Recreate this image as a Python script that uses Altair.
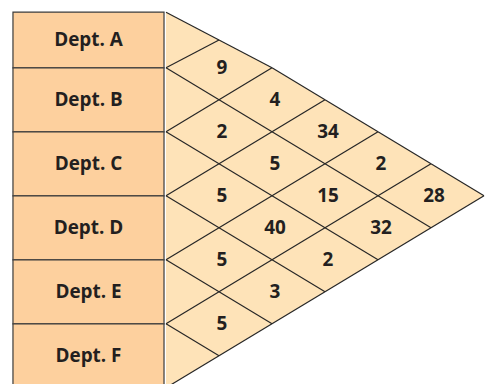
import altair as alt
import pandas as pd

# ---- data -------------------------------------------------------------
depts = ["Dept. A", "Dept. B", "Dept. C", "Dept. D", "Dept. E", "Dept. F"]

pair_first = ["Dept. A", "Dept. B", "Dept. C", "Dept. D", "Dept. E",
              "Dept. A", "Dept. B", "Dept. C", "Dept. D",
              "Dept. A", "Dept. B", "Dept. C",
              "Dept. A", "Dept. B",
              "Dept. A"]
pair_second = ["Dept. B", "Dept. C", "Dept. D", "Dept. E", "Dept. F",
               "Dept. C", "Dept. D", "Dept. E", "Dept. F",
               "Dept. D", "Dept. E", "Dept. F",
               "Dept. E", "Dept. F",
               "Dept. F"]
pair_values = [9, 2, 5, 5, 5,
               4, 5, 40, 3,
               34, 15, 2,
               2, 32,
               28]

# ---- derived tables (grid in row units) -------------------------------
n = len(depts)
idx = {d: k for k, d in enumerate(depts)}

cells = pd.DataFrame({"a": pair_first, "b": pair_second, "value": pair_values})
cells["x"] = [idx[b] - idx[a] for a, b in zip(pair_first, pair_second)]
cells["y"] = [(idx[a] + idx[b] + 1) / 2 for a, b in zip(pair_first, pair_second)]


def vertex(k, m):
    """Crossing of the down-right line from boundary k and up-right line from boundary m."""
    return m - k, (k + m) / 2


segs = []
for k in range(n + 1):
    for m in range(k, n):          # down-right line pieces
        (x1, y1), (x2, y2) = vertex(k, m), vertex(k, m + 1)
        segs.append({"x": x1, "y": y1, "x2": x2, "y2": y2})
for m in range(n + 1):
    for k in range(0, m):          # up-right line pieces
        (x1, y1), (x2, y2) = vertex(k, m), vertex(k + 1, m)
        segs.append({"x": x1, "y": y1, "x2": x2, "y2": y2})
segs = pd.DataFrame(segs)

tri = pd.DataFrame({
    "x": list(range(n + 1)),
    "y": [vertex(0, m)[1] for m in range(n + 1)],
    "y2": [vertex(n - k, n)[1] for k in range(n + 1)],
})
rows = pd.DataFrame({"dept": depts, "i": list(range(n))})
rows["i2"] = rows["i"] + 1
rows["mid"] = rows["i"] + 0.5

# ---- styling -----------------------------------------------------------
FONT = "Open Sans"
INK = "#231f20"
LINE = "#262626"
BOX_FILL = "#fdd09e"
TRI_FILL = "#fee3b8"
H = 378

xs = alt.Scale(domain=[0, n], nice=False, zero=False)
# first row drawn a little shorter than the others, as in the original
ys = alt.Scale(domain=[0, 1, n], range=[0, 56, H], nice=False, zero=False)

# ---- left column -----------------------------------------------------
boxes = alt.Chart(rows).mark_rect(
    fill=BOX_FILL, stroke="#3a3a3a", strokeWidth=1.2
).encode(
    y=alt.Y("i:Q", scale=ys, axis=None),
    y2="i2:Q",
)
names = alt.Chart(rows).mark_text(
    font=FONT, fontSize=19, fontWeight="bold", color=INK, baseline="middle"
).encode(
    y=alt.Y("mid:Q", scale=ys, axis=None),
    text="dept:N",
)
left = alt.layer(boxes, names).properties(width=152, height=H)

# ---- triangle ----------------------------------------------------------
area = alt.Chart(tri).mark_area(fill=TRI_FILL, opacity=1).encode(
    x=alt.X("x:Q", scale=xs, axis=None),
    y=alt.Y("y:Q", scale=ys, axis=None),
    y2="y2:Q",
)
grid = alt.Chart(segs).mark_rule(color=LINE, strokeWidth=1.2).encode(
    x=alt.X("x:Q", scale=xs, axis=None),
    y=alt.Y("y:Q", scale=ys, axis=None),
    x2="x2:Q",
    y2="y2:Q",
)
nums = alt.Chart(cells).mark_text(
    font=FONT, fontSize=19, fontWeight="bold", color=INK, baseline="middle", dx=3
).encode(
    x=alt.X("x:Q", scale=xs, axis=None),
    y=alt.Y("y:Q", scale=ys, axis=None),
    text="value:Q",
)
right = alt.layer(area, grid, nums).properties(width=320, height=H)

chart = alt.hconcat(left, right, spacing=0).properties(
    padding={"left": 4, "top": 2, "right": 0, "bottom": 0},
    background="white",
).configure_view(strokeWidth=0)

chart.save("out.html", embed_options={"renderer": "svg", "actions": False})
